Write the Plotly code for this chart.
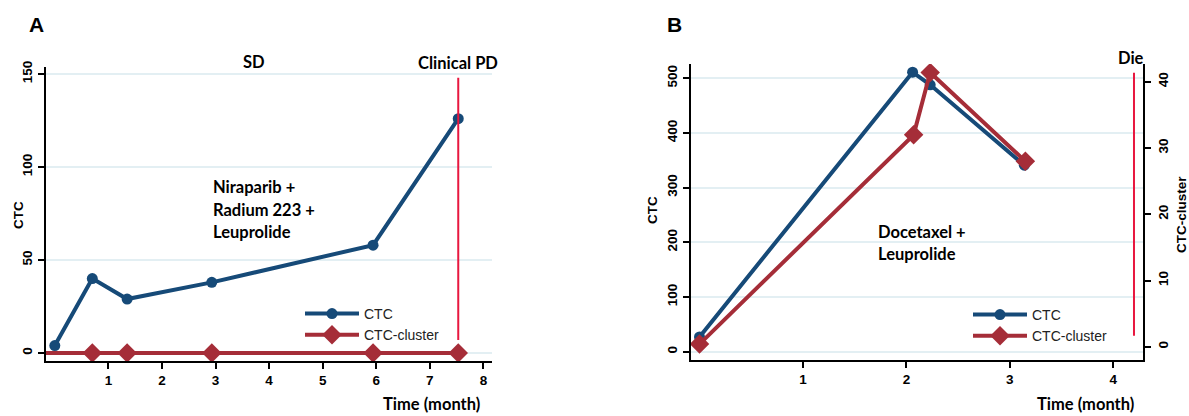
import plotly.graph_objects as go

W, H = 1189, 416

# ---------------- data ----------------
# Panel A
timeA_ctc = [0.0, 0.70, 1.35, 2.93, 5.94, 7.53]
ctcA = [4, 40, 29, 38, 58, 126]
timeA_cluster = [0.70, 1.35, 2.93, 5.94, 7.53]
clusterA = [0, 0, 0, 0, 0]
clusterA_baseline_start = -0.17
eventA_time = 7.53
eventA_span = [7, 148]
ticksA_x = [1, 2, 3, 4, 5, 6, 7, 8]
ticksA_y = [0, 50, 100, 150]

# Panel B
timeB_ctc = [0.0, 2.06, 2.23, 3.14]
ctcB = [27, 511, 488, 341]
timeB_cluster = [0.0, 2.07, 2.23, 3.15]
clusterB = [0.4, 32, 41.4, 28]
eventB_time = 4.20
eventB_span = [29, 510]
ticksB_x = [1, 2, 3, 4]
ticksB_y = [0, 100, 200, 300, 400, 500]
ticksB_y2 = [0, 10, 20, 30, 40]

# ---------------- style ----------------
BLUE = "#164a78"
RED = "#a52d38"
EVENT = "#e8173f"
GRID = "#e3eff3"
LW = 4
TICKFONT = dict(family="Liberation Sans, Arial", size=13.5, color="black", weight="bold")
TXTFONT = dict(family="Lato, Open Sans", size=16.5, color="black", weight="bold")
LEGFONT = dict(family="Liberation Sans, Arial", size=14, color="#222")


def px(x):
    return x / W


def py(y):
    return 1 - y / H


fig = go.Figure()

# Panel A traces
fig.add_trace(go.Scatter(x=[clusterA_baseline_start] + timeA_cluster[:1], y=[0, clusterA[0]],
                         mode="lines", line=dict(color=RED, width=LW),
                         showlegend=False, hoverinfo="skip", xaxis="x", yaxis="y"))
fig.add_trace(go.Scatter(x=timeA_cluster, y=clusterA, mode="lines+markers", name="CTC-cluster",
                         line=dict(color=RED, width=LW),
                         marker=dict(symbol="diamond", size=15, color=RED),
                         legend="legend", xaxis="x", yaxis="y"))
fig.add_trace(go.Scatter(x=timeA_ctc, y=ctcA, mode="lines+markers", name="CTC",
                         line=dict(color=BLUE, width=LW),
                         marker=dict(symbol="circle", size=11, color=BLUE),
                         legend="legend", xaxis="x", yaxis="y"))
fig.add_trace(go.Scatter(x=[eventA_time, eventA_time], y=eventA_span, mode="lines",
                         line=dict(color=EVENT, width=2), showlegend=False,
                         hoverinfo="skip", xaxis="x", yaxis="y"))

# Panel B traces
fig.add_trace(go.Scatter(x=timeB_ctc, y=ctcB, mode="lines+markers", name="CTC",
                         line=dict(color=BLUE, width=LW),
                         marker=dict(symbol="circle", size=11, color=BLUE),
                         legend="legend2", xaxis="x2", yaxis="y2"))
fig.add_trace(go.Scatter(x=timeB_cluster, y=clusterB, mode="lines+markers", name="CTC-cluster",
                         line=dict(color=RED, width=LW),
                         marker=dict(symbol="diamond", size=15, color=RED),
                         legend="legend2", xaxis="x2", yaxis="y3"))
fig.add_trace(go.Scatter(x=[eventB_time, eventB_time], y=eventB_span, mode="lines",
                         line=dict(color=EVENT, width=2), showlegend=False,
                         hoverinfo="skip", xaxis="x2", yaxis="y2"))

axis_common = dict(showline=True, linecolor="black", linewidth=2, ticks="outside",
                   ticklen=6, tickwidth=1.5, tickcolor="black", tickfont=TICKFONT,
                   zeroline=False, automargin=False)

fig.update_layout(
    width=W, height=H,
    margin=dict(l=0, r=0, t=0, b=0, autoexpand=False),
    paper_bgcolor="white", plot_bgcolor="white",
    xaxis=dict(domain=[px(45.7), px(492)], range=[-0.17, 8.16], tickvals=ticksA_x,
               showgrid=False, anchor="y", **axis_common),
    yaxis=dict(domain=[py(361), py(67)], range=[-4.3, 153.8], tickvals=ticksA_y,
               tickangle=-90, showgrid=True, gridcolor=GRID, gridwidth=1.5,
               anchor="x", **axis_common),
    xaxis2=dict(domain=[px(690.7), px(1143.3)], range=[-0.085, 4.29], tickvals=ticksB_x,
                showgrid=False, anchor="y2", **axis_common),
    yaxis2=dict(domain=[py(360), py(64)], range=[-15.2, 526], tickvals=ticksB_y,
                tickangle=-90, showgrid=True, gridcolor=GRID, gridwidth=1.5,
                anchor="x2", **axis_common),
    yaxis3=dict(range=[-2.0, 42.7], tickvals=ticksB_y2, tickangle=-90, showgrid=False,
                overlaying="y2", side="right", anchor="x2", **axis_common),
    legend=dict(x=px(300), y=py(298), xanchor="left", yanchor="top",
                bgcolor="rgba(0,0,0,0)", itemwidth=54, traceorder="reversed",
                font=LEGFONT),
    legend2=dict(x=px(968), y=py(299), xanchor="left", yanchor="top",
                 bgcolor="rgba(0,0,0,0)", itemwidth=54, traceorder="normal",
                 font=LEGFONT),
)

ann = []
ann.append(dict(text="A", x=px(36), y=py(24), font=dict(family="Liberation Sans, Arial", size=21, color="black", weight="bold")))
ann.append(dict(text="B", x=px(674), y=py(24), font=dict(family="Liberation Sans, Arial", size=21, color="black", weight="bold")))
ann.append(dict(text="SD", x=px(254), y=py(62), font=TXTFONT))
ann.append(dict(text="Clinical PD", x=px(458), y=py(63), font=TXTFONT))
ann.append(dict(text="Die", x=px(1131), y=py(58), font=TXTFONT))
for i, t in enumerate(["Niraparib +", "Radium 223 +", "Leuprolide"]):
    ann.append(dict(text=t, x=px(211), y=py(187 + 22.5 * i), xanchor="left", font=TXTFONT))
for i, t in enumerate(["Docetaxel +", "Leuprolide"]):
    ann.append(dict(text=t, x=px(876), y=py(232 + 22 * i), xanchor="left", font=TXTFONT))
ann.append(dict(text="Time (month)", x=px(431), y=py(404), font=TXTFONT))
ann.append(dict(text="Time (month)", x=px(1085), y=py(404), font=TXTFONT))
ann.append(dict(text="CTC", x=px(18), y=py(215), textangle=-90, font=dict(family="Liberation Sans, Arial", size=13.5, color="black", weight="bold")))
ann.append(dict(text="CTC", x=px(652), y=py(210), textangle=-90, font=dict(family="Liberation Sans, Arial", size=13.5, color="black", weight="bold")))
ann.append(dict(text="CTC-cluster", x=px(1181), y=py(215), textangle=-90, font=dict(family="Liberation Sans, Arial", size=13.5, color="black", weight="bold")))

for a in ann:
    a.setdefault("xanchor", "center")
    a.update(xref="paper", yref="paper", yanchor="middle", showarrow=False)
fig.update_layout(annotations=ann)

fig.write_html("out.html", config={"displayModeBar": False},
               post_script="document.body.style.margin='0';document.body.style.overflow='hidden';")
